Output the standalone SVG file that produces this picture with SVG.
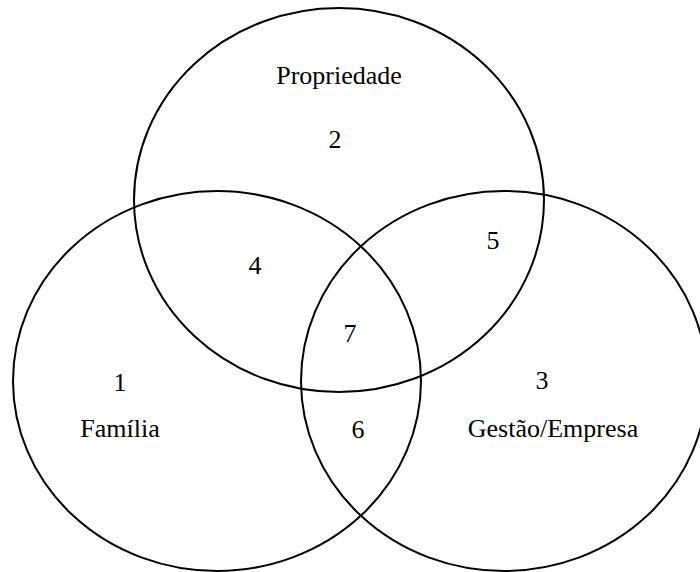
<svg xmlns="http://www.w3.org/2000/svg" width="700" height="572" viewBox="0 0 700 572">
<style>
.c{fill:none;stroke:#000;stroke-width:2}
text{font-family:"Liberation Serif","Times New Roman",serif;font-size:26px;fill:#000;text-anchor:middle}
</style>
<rect width="700" height="572" fill="#fff"/>
<g id="propriedade"><ellipse class="c" cx="339" cy="200" rx="205" ry="192"/><text x="339" y="84">Propriedade</text><text x="335" y="148">2</text></g>
<g id="familia"><ellipse class="c" cx="217" cy="381" rx="204" ry="190"/><text x="120" y="391">1</text><text x="120" y="437">Família</text></g>
<g id="gestao"><ellipse class="c" cx="504" cy="381" rx="203" ry="190"/><text x="542" y="389">3</text><text x="553" y="437">Gestão/Empresa</text></g>
<g id="regions"><text x="255" y="274">4</text><text x="493" y="249">5</text><text x="358" y="438">6</text><text x="350" y="342">7</text></g>
</svg>
